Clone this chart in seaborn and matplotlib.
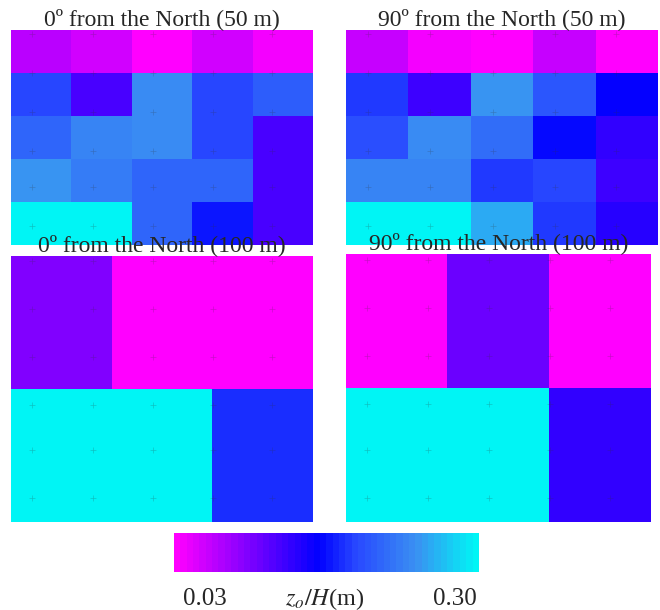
import numpy as np
import matplotlib
matplotlib.use("Agg")
import matplotlib.pyplot as plt
import seaborn as sns
from matplotlib.colors import LinearSegmentedColormap

# z0/H values (rows listed top -> bottom)
deg0_50m = [
    [0.065, 0.055, 0.030, 0.055, 0.040],
    [0.190, 0.125, 0.240, 0.190, 0.205],
    [0.215, 0.235, 0.240, 0.190, 0.125],
    [0.245, 0.230, 0.215, 0.210, 0.125],
    [0.300, 0.300, 0.215, 0.170, 0.125],
]
deg90_50m = [
    [0.062, 0.040, 0.033, 0.060, 0.035],
    [0.185, 0.130, 0.245, 0.200, 0.158],
    [0.195, 0.240, 0.220, 0.160, 0.135],
    [0.235, 0.235, 0.185, 0.190, 0.130],
    [0.300, 0.300, 0.255, 0.185, 0.140],
]
deg0_100m = [
    [0.094, 0.030, 0.030],
    [0.300, 0.300, 0.180],
]
deg90_100m = [
    [0.030, 0.105, 0.030],
    [0.295, 0.295, 0.134],
]
titles = ["0º from the North (50 m)", "90º from the North (50 m)",
          "0º from the North (100 m)", "90º from the North (100 m)"]

# measurement points (axes fractions, y from top)
probe_x = [0.07, 0.27, 0.47, 0.67, 0.865]
probe_y = [0.02, 0.20, 0.38, 0.56, 0.73, 0.91]

vmin, vmax = 0.03, 0.30

sns.set_style("white")
plt.rcParams["font.family"] = ["Liberation Serif", "DejaVu Serif"]
plt.rcParams["mathtext.fontset"] = "stix"

cmap = LinearSegmentedColormap.from_list(
    "zo", [(0.0, "#ff00ff"), (0.475, "#0000ff"), (0.6, "#2848ff"),
           (0.8, "#3a90f2"), (1.0, "#00f5f5")], N=48)

fig = plt.figure(figsize=(6.6, 6.1), dpi=100)
boxes = [
    [0.0167, 0.598, 0.4576, 0.3525],
    [0.524, 0.598, 0.473, 0.3525],
    [0.0167, 0.1443, 0.4576, 0.436],
    [0.524, 0.1443, 0.462, 0.439],
]
cax = fig.add_axes([0.2636, 0.0623, 0.462, 0.064])

panels = [deg0_50m, deg90_50m, deg0_100m, deg90_100m]
cbar = None
for i, (data, box, title) in enumerate(zip(panels, boxes, titles)):
    ax = fig.add_axes(box)
    sns.heatmap(np.array(data), ax=ax, cmap=cmap, vmin=vmin, vmax=vmax,
                xticklabels=False, yticklabels=False,
                cbar=(i == 0), cbar_ax=cax if i == 0 else None,
                cbar_kws={"orientation": "horizontal"} if i == 0 else None)
    if i == 0:
        cbar = ax.collections[0].colorbar
    px, py = np.meshgrid(probe_x, probe_y)
    ax.scatter(px.ravel(), 1 - py.ravel(), transform=ax.transAxes, marker="+",
               s=18, linewidths=0.5, color="#333333", alpha=0.25, zorder=3)
    ax.set_title(title, fontsize=17, pad=3)

cbar.outline.set_visible(False)
cax.set_xticks([])
cax.set_yticks([])
cax.text(0.10, -0.68, "0.03", transform=cax.transAxes, ha="center", va="center", fontsize=18)
cax.text(0.495, -0.68, r"$z_o/H$(m)", transform=cax.transAxes, ha="center", va="center", fontsize=17.5)
cax.text(0.92, -0.68, "0.30", transform=cax.transAxes, ha="center", va="center", fontsize=18)

fig.savefig("out.png", dpi=100)
